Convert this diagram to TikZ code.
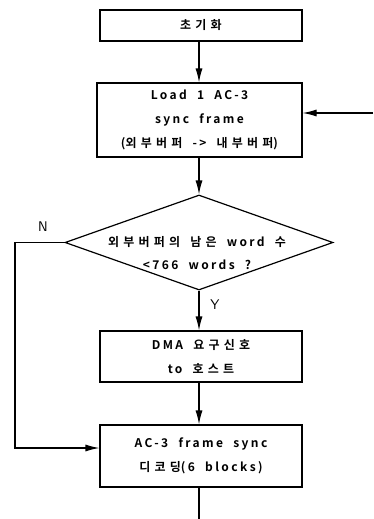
\documentclass[tikz,border=0pt]{standalone}
\usepackage{fontspec}
\usetikzlibrary{shapes.geometric,arrows.meta,calc}
\newfontfamily\latf{Noto Sans CJK KR}[LetterSpace=20, WordSpace=2, BoldFont={Noto Sans CJK KR Bold}]
\newfontfamily\korf{Noto Sans CJK KR}[LetterSpace=35, WordSpace=2, BoldFont={Noto Sans CJK KR Bold}]
\newcommand{\K}[1]{{\korf\bfseries #1}}
\begin{document}
\begin{tikzpicture}[x=1pt,y=-1pt,
  every node/.style={font=\latf\bfseries\fontsize{12}{24}\selectfont},
  boxst/.style={draw, line width=1.2pt, rectangle, inner sep=0pt, align=center},
  dia/.style={draw, line width=1.2pt, diamond, inner sep=0pt},
  lbl/.style={inner sep=0pt, align=center},
  conn/.style={line width=1.2pt},
  arr/.style={line width=1.2pt, -{Latex[length=14pt,width=7pt]}}]
\useasboundingbox (0,0) rectangle (373,519);
\node[boxst, minimum width=202, minimum height=31] (b1) at (201,25.5) {\K{초기화}};
\node[boxst, minimum width=205, minimum height=74] (b2) at (199.5,120)
  {Load 1 AC-3\\sync frame\\(\K{외부버퍼} -> \K{내부버퍼})};
\node[dia, minimum width=268, minimum height=95] (d) at (199,242.5) {};
\node[lbl, align=center, font=\latf\bfseries\fontsize{12}{23}\selectfont] (dt) at (197,253)
  {\K{외부버퍼의} \K{남은} word \K{수}\\<766 words ?};
\node[boxst, minimum width=202, minimum height=51] (b3) at (201,356.5)
  {DMA \K{요구신호}\\to \K{호스트}};
\node[boxst, minimum width=202, minimum height=62] (b4) at (201,456)
  {AC-3 frame sync\\\K{디코딩}(6 blocks)};
\node[lbl, font=\sffamily\fontsize{14}{14}\selectfont] (ylab) at (215,305) {Y};
\node[lbl, font=\sffamily\fontsize{14}{14}\selectfont] (nlab) at (43,227) {N};
\coordinate (in) at (373,113);
\coordinate (nl) at (15,242.5);
\coordinate (end) at (199,519);
\draw[arr] (b1.south -| d.north) -- (b2.north -| d.north);
\draw[arr] (b2.south -| d.north) -- (d.north);
\draw[arr] (d.south) -- (b3.north -| d.south);
\draw[arr] (b3.south -| d.south) -- (b4.north -| d.south);
\draw[conn] (b4.south -| end) -- (end);
\draw[arr] (in) -- (in -| b2.east);
\draw[arr] (d.west) -- (nl) |- ([yshift=8pt]b4.west);
\end{tikzpicture}
\end{document}
